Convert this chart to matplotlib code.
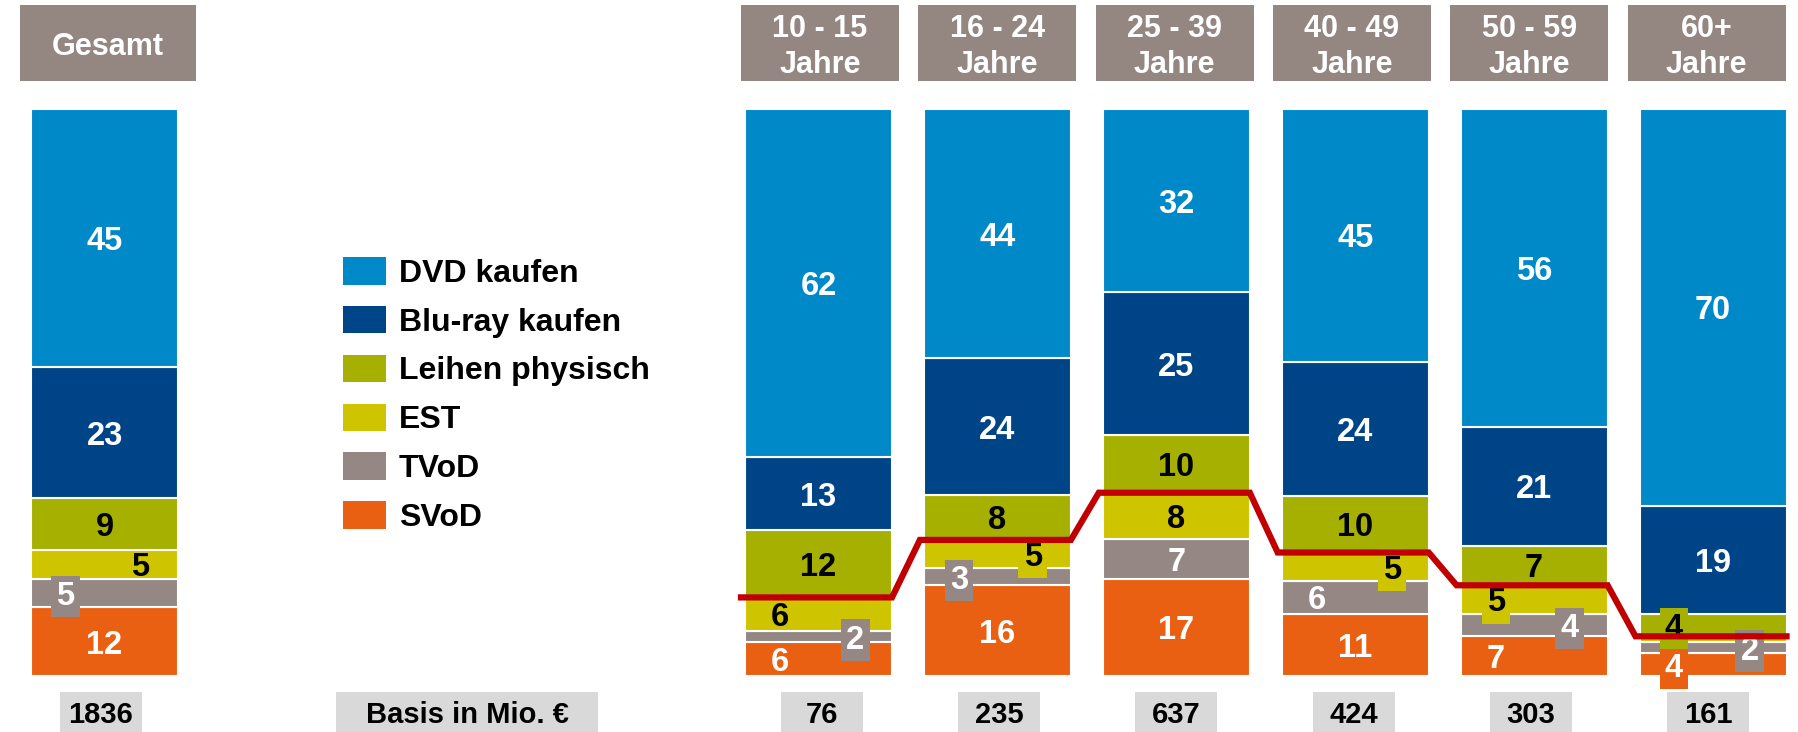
"""
Stacked share chart: Videomarkt nach Altersgruppen.
"""
import matplotlib
matplotlib.use("Agg")
import matplotlib.pyplot as plt
from matplotlib.patches import Rectangle, Patch

plt.rcParams["font.family"] = ["Liberation Sans", "DejaVu Sans"]
plt.rcParams["font.weight"] = "bold"

# data (bottom to top within a bar)
GROUPS = ["Gesamt", "10 - 15\nJahre", "16 - 24\nJahre", "25 - 39\nJahre",
          "40 - 49\nJahre", "50 - 59\nJahre", "60+\nJahre"]
SERIES = ["SVoD", "TVoD", "EST", "Leihen physisch", "Blu-ray kaufen", "DVD kaufen"]
svod = [12, 6, 16, 17, 11, 7, 4]
tvod = [5, 2, 3, 7, 6, 4, 2]
est = [5, 6, 5, 8, 5, 5, 1]
leihen = [9, 12, 8, 10, 10, 7, 4]
bluray = [23, 13, 24, 25, 24, 21, 19]
dvd = [45, 62, 44, 32, 45, 56, 70]
basis = [1836, 76, 235, 637, 424, 303, 161]
BASIS_LABEL = "Basis in Mio. €"

COLORS = {
    "DVD kaufen": "#0089C9",
    "Blu-ray kaufen": "#004488",
    "Leihen physisch": "#A6B000",
    "EST": "#CFC400",
    "TVoD": "#958884",
    "SVoD": "#EA6012",
}
TEXT_COLORS = {
    "DVD kaufen": "white", "Blu-ray kaufen": "white", "Leihen physisch": "black",
    "EST": "black", "TVoD": "white", "SVoD": "white",
}
HEADER_COLOR = "#948680"
BASE_COLOR = "#D9D9D9"
LINE_COLOR = "#C00000"

# label placement: (group, series) -> (x fraction of bar, boxed)
LABEL_POS = {
    (0, "EST"): (0.74, False), (0, "TVoD"): (0.235, True),
    (1, "EST"): (0.24, False), (1, "TVoD"): (0.75, True), (1, "SVoD"): (0.24, False),
    (2, "TVoD"): (0.24, True), (2, "EST"): (0.74, True),
    (4, "TVoD"): (0.24, False), (4, "EST"): (0.75, True),
    (5, "EST"): (0.24, True), (5, "TVoD"): (0.74, True), (5, "SVoD"): (0.24, False),
    (6, "Leihen physisch"): (0.235, True), (6, "TVoD"): (0.75, True),
    (6, "SVoD"): (0.235, True),
}

W, H = 1798, 732
BAR_W = 147
BAR_BOTTOM_PX, BAR_TOP_PX = 676, 109
SCALE = (BAR_BOTTOM_PX - BAR_TOP_PX) / 100.0
x_centers = [104.5] + [818.5 + i * 178.9 for i in range(6)]
head_centers = [107.5] + [820 + i * 177.3 for i in range(6)]
base_centers = [101] + [822 + i * 177.2 for i in range(6)]


def py(p):
    """pixel row (from top) -> data value"""
    return (BAR_BOTTOM_PX - p) / SCALE


fig = plt.figure(figsize=(W / 100, H / 100), dpi=100)
ax = fig.add_axes([0, 0, 1, 1])
ax.set_xlim(0, W)
ax.set_ylim(py(H), py(0))
ax.axis("off")

values = {
    "SVoD": svod, "TVoD": tvod, "EST": est, "Leihen physisch": leihen,
    "Blu-ray kaufen": bluray, "DVD kaufen": dvd,
}
totals = [sum(values[s][i] for s in SERIES) for i in range(len(GROUPS))]

bottoms = [0.0] * len(GROUPS)
digital = []
for s in SERIES:
    heights = [values[s][i] * 100.0 / totals[i] for i in range(len(GROUPS))]
    ax.bar(x_centers, heights, bottom=bottoms, width=BAR_W, color=COLORS[s],
           edgecolor="white", linewidth=1.5, zorder=2)
    for i, (h, b) in enumerate(zip(heights, bottoms)):
        v = values[s][i]
        if v < 2:
            continue
        frac, boxed = LABEL_POS.get((i, s), (0.5, False))
        x = x_centers[i] - BAR_W / 2 + frac * BAR_W
        kw = {}
        if boxed:
            kw["bbox"] = dict(boxstyle="square,pad=0.16", fc=COLORS[s], ec="none")
        ax.text(x, b + h / 2, str(v), ha="center", va="center_baseline",
                fontsize=23.5, color=TEXT_COLORS[s], zorder=4, **kw)
    bottoms = [b + h for b, h in zip(bottoms, heights)]
    if s == "EST":
        digital = list(bottoms)

# red line at digital share for the age groups
lx, ly = [], []
for i in range(1, len(GROUPS)):
    lx += [x_centers[i] - BAR_W / 2 - 4, x_centers[i] + BAR_W / 2]
    ly += [digital[i], digital[i]]
ax.plot(lx, ly, color=LINE_COLOR, lw=4.5, solid_joinstyle="miter", zorder=5)

# headers
for i, g in enumerate(GROUPS):
    wdt = 176 if i == 0 else 158
    x0 = head_centers[i] - wdt / 2
    ax.add_patch(Rectangle((x0, py(81)), wdt, py(5) - py(81), fc=HEADER_COLOR,
                           ec="none", zorder=1))
    ax.text(head_centers[i], py(47), g, ha="center", va="center", fontsize=22,
            color="white", linespacing=1.28, zorder=3)

# basis boxes
for i, b in enumerate(basis):
    ax.add_patch(Rectangle((base_centers[i] - 41, py(H + 10)), 82,
                           py(692) - py(H + 10), fc=BASE_COLOR, ec="none", zorder=1))
    ax.text(base_centers[i], py(712), str(b), ha="center", va="center_baseline",
            fontsize=21, color="black", zorder=3)
ax.add_patch(Rectangle((336, py(H + 10)), 262, py(692) - py(H + 10),
                       fc=BASE_COLOR, ec="none", zorder=1))
ax.text(467, py(712), BASIS_LABEL, ha="center", va="center_baseline", fontsize=21,
        color="black", zorder=3)

# legend
handles = [Patch(fc=COLORS[s], ec="none", label=s) for s in SERIES[::-1]]
ax.legend(handles=handles, loc="upper left", bbox_to_anchor=(343 / W, 1 - 257 / H),
          bbox_transform=fig.transFigure, frameon=False, borderpad=0, borderaxespad=0,
          handlelength=1.35, handleheight=0.95, handletextpad=0.4, labelspacing=0.535,
          prop={"size": 23, "weight": "bold"})

fig.savefig("out.png", dpi=100)
